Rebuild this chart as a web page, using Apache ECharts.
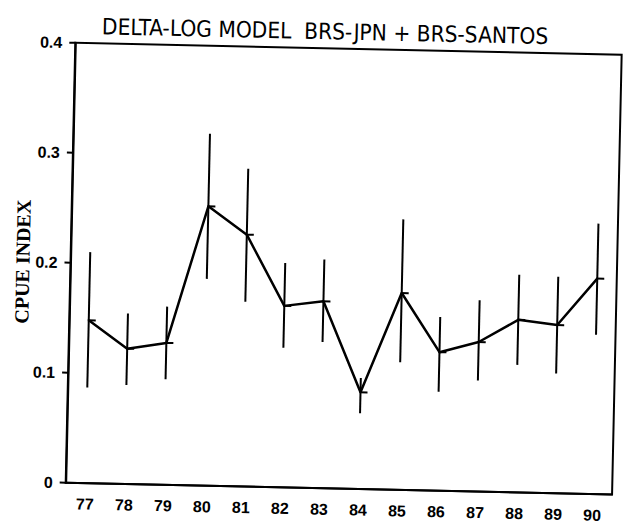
<!DOCTYPE html>
<html>
<head>
<meta charset="utf-8">
<script src="https://cdn.jsdelivr.net/npm/echarts@6/dist/echarts.min.js"></script>
<style>
  html, body { margin: 0; padding: 0; background: #fff; }
  #wrap { width: 626px; height: 530px; overflow: hidden; }
  #chart { width: 626px; height: 530px; transform: rotate(1.25deg); transform-origin: 313px 265px; }
</style>
</head>
<body>
<div id="wrap"><div id="chart"></div></div>
<script>
// Fishing years (19xx)
const years = ['77', '78', '79', '80', '81', '82', '83', '84', '85', '86', '87', '88', '89', '90'];
// Standardised CPUE index (delta-lognormal model)
const cpue    = [0.148, 0.123, 0.129, 0.254, 0.229, 0.165, 0.170, 0.088, 0.179, 0.126, 0.136, 0.157, 0.153, 0.196];
// Lower and upper limits of the confidence interval
const lowerCI = [0.087, 0.090, 0.096, 0.188, 0.168, 0.127, 0.133, 0.069, 0.116, 0.090, 0.101, 0.116, 0.109, 0.145];
const upperCI = [0.210, 0.155, 0.162, 0.320, 0.289, 0.204, 0.208, 0.101, 0.246, 0.158, 0.174, 0.198, 0.197, 0.246];
// Value-axis ticks
const yTicks = [0, 0.1, 0.2, 0.3, 0.4];

const titleText = 'DELTA-LOG MODEL  BRS-JPN + BRS-SANTOS';
const plotFont = '"DejaVu Sans Condensed", "Liberation Sans Narrow", "DejaVu Sans", sans-serif';
const tickFont = '"Liberation Sans", Arial, sans-serif';

const chart = echarts.init(document.getElementById('chart'), null, { renderer: 'svg' });

const errorData = years.map((y, i) => [i, lowerCI[i], upperCI[i], cpue[i]]);

chart.setOption({
  animation: false,
  backgroundColor: '#fff',
  graphic: [{
    type: 'text',
    x: 320,
    y: 31,
    style: {
      text: titleText,
      align: 'center',
      verticalAlign: 'middle',
      fontFamily: plotFont,
      fontSize: 22.5,
      fill: '#000'
    }
  }],
  grid: {
    left: 70.5, right: 9, top: 48, bottom: 42,
    outerBoundsMode: 'none',
    containLabel: false,
    show: true, borderColor: '#000', borderWidth: 2, backgroundColor: 'transparent'
  },
  xAxis: {
    type: 'category',
    data: years,
    boundaryGap: true,
    axisLine: { lineStyle: { color: '#000', width: 2 } },
    axisTick: { alignWithLabel: true, length: 5, lineStyle: { color: '#000', width: 2 } },
    axisLabel: {
      color: '#000', fontFamily: tickFont, fontWeight: 'bold',
      fontSize: 16, margin: 13
    },
    splitLine: { show: false }
  },
  yAxis: {
    type: 'value',
    min: yTicks[0],
    max: yTicks[yTicks.length - 1],
    interval: 0.1,
    name: 'CPUE INDEX',
    nameLocation: 'middle',
    nameRotate: 90,
    nameGap: 38,
    nameMoveOverlap: false,
    nameTextStyle: {
      color: '#000', fontFamily: '"Liberation Serif", "DejaVu Serif", serif',
      fontWeight: 'bold', fontSize: 20
    },
    axisLine: { show: true, lineStyle: { color: '#000', width: 2 } },
    axisTick: { show: true, length: 6, lineStyle: { color: '#000', width: 2 } },
    axisLabel: {
      color: '#000', fontFamily: tickFont, fontWeight: 'bold',
      fontSize: 16, margin: 13,
      formatter: v => (v === 0 ? '0' : v.toFixed(1))
    },
    splitLine: { show: false }
  },
  series: [
    {
      type: 'line',
      data: cpue,
      symbol: 'none',
      lineStyle: { color: '#000', width: 2.5 },
      z: 3
    },
    {
      type: 'custom',
      data: errorData,
      encode: { x: 0, y: [1, 2, 3] },
      z: 4,
      renderItem: function (params, api) {
        const i = api.value(0);
        const lo = api.coord([i, api.value(1)]);
        const hi = api.coord([i, api.value(2)]);
        const mid = api.coord([i, api.value(3)]);
        return {
          type: 'group',
          children: [
            {
              type: 'line',
              shape: { x1: lo[0], y1: lo[1], x2: hi[0], y2: hi[1] },
              style: { stroke: '#000', lineWidth: 2 }
            },
            {
              type: 'line',
              shape: { x1: mid[0] - 1, y1: mid[1], x2: mid[0] + 7, y2: mid[1] },
              style: { stroke: '#000', lineWidth: 2 }
            }
          ]
        };
      }
    }
  ]
});
</script>
</body>
</html>
